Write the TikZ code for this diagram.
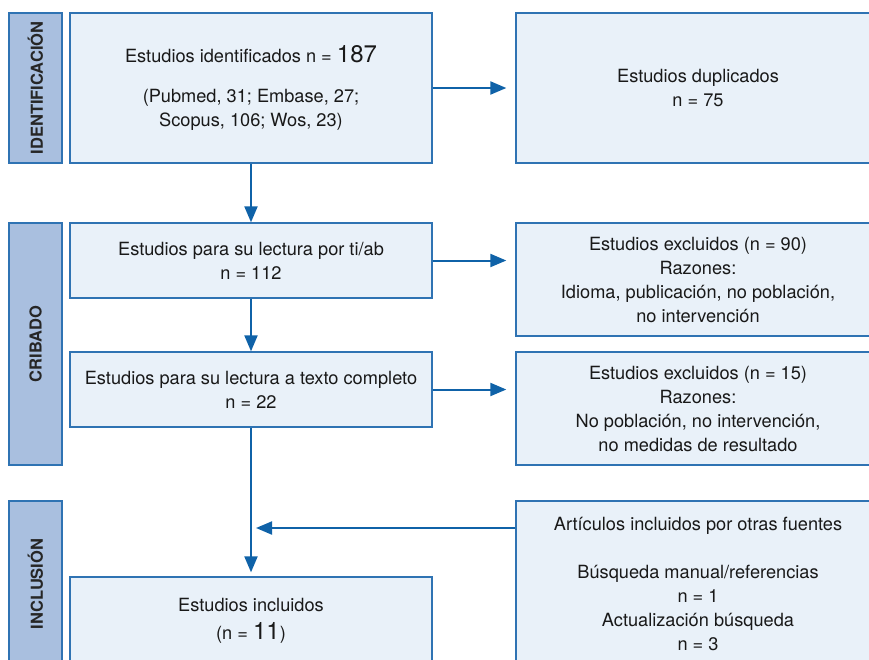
\documentclass[tikz,border=0pt]{standalone}
\usepackage{fontspec}
\setmainfont{TeX Gyre Heros}
\usetikzlibrary{arrows.meta}

\definecolor{boxline}{HTML}{2F73B3}
\definecolor{boxfill}{HTML}{E9F1F9}
\definecolor{phasefill}{HTML}{A9BFDF}
\definecolor{arrowblue}{HTML}{0F62A8}

\begin{document}
\begin{tikzpicture}[x=1pt,y=-1pt,
  box/.style={draw=boxline,fill=boxfill,line width=1.3pt,align=center,inner sep=0pt,
    font=\fontsize{18.2}{24}\selectfont,text=black!90},
  phase/.style={draw=boxline,fill=phasefill,line width=1.3pt,rotate=90,inner sep=0pt,
    minimum height=53pt,font=\fontsize{16.5}{16.5}\selectfont\bfseries,text=black!85},
  flow/.style={-{Triangle[length=16pt,width=13pt]},line width=2pt,draw=arrowblue}]

\useasboundingbox (0,0) rectangle (869,659);
\clip (0,0) rectangle (869,659);

% phases
\node[phase,minimum width=150pt] (P1) at (35.5, 88) {IDENTIFICACIÓN};
\node[phase,minimum width=242pt] (P2) at (35.5, 344) {CRIBADO};
\node[phase,minimum width=166pt] (P3) at (35.5, 584) {INCLUSIÓN};

% main column
\node[box,minimum width=362pt,minimum height=150pt] (ident) at (251, 88)
  {Estudios identificados n = {\fontsize{24}{24}\selectfont 187}\\[16pt]
   (Pubmed, 31; Embase, 27;\\ Scopus, 106; Wos, 23)};
\node[box,minimum width=362pt,minimum height=75pt] (tiab) at (251, 260.5)
  {Estudios para su lectura por ti/ab\\ n = 112};
\node[box,minimum width=362pt,minimum height=75pt] (texto) at (251, 389.5)
  {Estudios para su lectura a texto completo\\ n = 22};
\node[box,minimum width=362pt,minimum height=88pt] (incl) at (251, 621)
  {Estudios incluidos\\[4pt] (n = {\fontsize{24}{24}\selectfont 11})};

% right column
\node[box,minimum width=364pt,minimum height=150pt] (dup) at (698, 88)
  {Estudios duplicados\\ n = 75};
\node[box,minimum width=364pt,minimum height=113pt] (excl1) at (698, 279.5)
  {Estudios excluidos (n = 90)\\ Razones:\\ Idioma, publicación, no población,\\ no intervención};
\node[box,minimum width=364pt,minimum height=113pt] (excl2) at (698, 408.5)
  {Estudios excluidos (n = 15)\\ Razones:\\ No población, no intervención,\\ no medidas de resultado};
\node[box,minimum width=364pt,minimum height=166pt] (otras) at (698, 584)
  {Artículos incluidos por otras fuentes\\[24pt] Búsqueda manual/referencias\\ n = 1\\
   Actualización búsqueda\\ n = 3};

\coordinate (join) at (251, 528);

\draw[flow,shorten >=9pt] (ident) -- (dup);
\draw[flow] (ident) -- (tiab);
\draw[flow] (tiab) -- (texto);
\draw[flow,shorten >=9pt] (tiab.east) -- (tiab.east -| excl1.west);
\draw[flow,shorten >=9pt] (texto.east) -- (texto.east -| excl2.west);
\draw[flow,shorten >=4pt] (texto) -- (incl);
\draw[flow,shorten >=5pt] (otras.west |- join) -- (join);

\end{tikzpicture}
\end{document}
